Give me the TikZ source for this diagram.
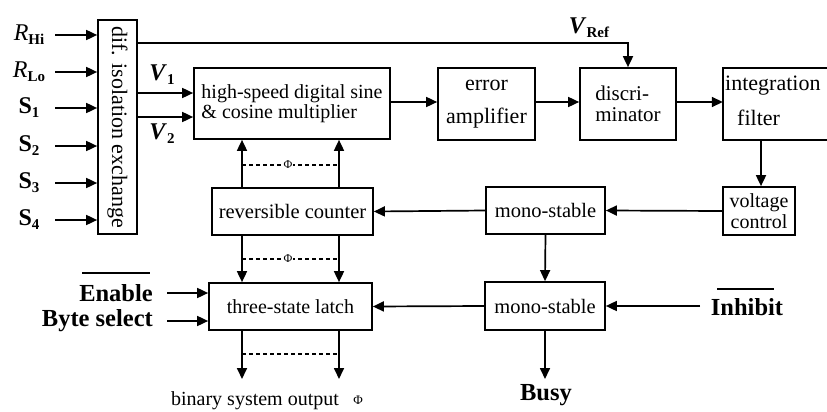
\documentclass[tikz,border=0pt]{standalone}
\usepackage{fontspec}
\setmainfont{Liberation Serif}
\usetikzlibrary{arrows.meta}
\newcommand\fs[1]{\fontsize{#1}{#1}\selectfont}
\newcommand\subl[3]{{\fs{#1}#2}{\fs{15}\raisebox{-4pt}{\textbf{#3}}}}
\begin{document}
\begin{tikzpicture}[x=1pt,y=-1pt,
  box/.style={draw, line width=1.7pt, inner sep=0pt, align=center},
  arr/.style={-{Triangle[length=11pt,width=10pt]}, line width=1.7pt},
  dline/.style={dashed, dash pattern=on 4pt off 3pt, line width=1.4pt},
  lbl/.style={inner sep=0pt, font=\fs{24.5}\bfseries},
  phi/.style={fill=white, inner sep=0.6pt, font=\fs{12}}]
\useasboundingbox (0,0) rectangle (827,412);
% boxes
\node[box, minimum width=39, minimum height=214] (iso) at (117.5,127) {\rotatebox{-90}{\fs{22}dif. isolation exchange}};
\node[box, minimum width=196, minimum height=71, font=\fs{20}, align=left] (mult) at (292,103.5) {high-speed digital sine\\\& cosine multiplier};
\node[box, minimum width=97, minimum height=72, font=\fs{22}] (err) at (486.5,104) {error\\[11pt]amplifier};
\node[box, minimum width=96, minimum height=72, font=\fs{21}, align=left] (disc) at (628,104) {discri-\\minator};
\node[inner sep=0pt, minimum width=106, minimum height=72] (integ) at (776,104) {};
\draw[line width=1.7pt] (integ.north east) -- (integ.north west) -- (integ.south west) -- (integ.south east);
\node[inner sep=0pt, font=\fs{22}, align=left, anchor=west] (integt) at (725,101) {integration\\[13pt]\hspace*{12pt}filter};
\node[box, minimum width=72, minimum height=48, font=\fs{20}] (vc) at (759,211) {voltage\\[1pt]control};
\node[box, minimum width=119, minimum height=47, font=\fs{20.5}] (mono1) at (545.5,210.5) {mono-stable};
\node[box, minimum width=161, minimum height=47, font=\fs{20.5}] (cnt) at (292.5,211.5) {reversible counter};
\node[box, minimum width=163, minimum height=47, font=\fs{20}] (latch) at (290.5,306.5) {three-state latch};
\node[box, minimum width=120, minimum height=48, font=\fs{20.5}] (mono2) at (545,306) {mono-stable};
% left labels
\node[inner sep=0pt] (rhi) at (29,35) {\subl{24}{\textit{R}}{Hi}};
\node[inner sep=0pt] (rlo) at (29,72) {\subl{24}{\textit{R}}{Lo}};
\node[inner sep=0pt] (s1) at (29,108) {\subl{24}{\textbf{S}}{1}};
\node[inner sep=0pt] (s2) at (29,146) {\subl{24}{\textbf{S}}{2}};
\node[inner sep=0pt] (s3) at (29,183) {\subl{24}{\textbf{S}}{3}};
\node[inner sep=0pt] (s4) at (29,220) {\subl{24}{\textbf{S}}{4}};
\foreach \n in {rhi,rlo,s1,s2,s3,s4}
  \draw[arr] (55,0 |- \n) -- (\n -| iso.west);
% V labels
\node[inner sep=0pt] (v1) at (162,75) {\subl{24}{\textbf{\textit{V}}}{1}};
\node[inner sep=0pt] (v2) at (162,134) {\subl{24}{\textbf{\textit{V}}}{2}};
\node[inner sep=0pt] (vref) at (589,28) {\subl{24}{\textbf{\textit{V}}}{Ref}};
\coordinate (y93) at (0,93);
\coordinate (y117) at (0,117);
\coordinate (y43) at (0,43);
\coordinate (y102) at (0,102);
\draw[arr] (iso.east |- y93) -- (mult.west |- y93);
\draw[arr] (iso.east |- y117) -- (mult.west |- y117);
\draw[arr] (iso.east |- y43) -| (disc.north);
% top chain
\draw[arr] (mult.east |- y102) -- (err.west |- y102);
\draw[arr] (err.east |- y102) -- (disc.west |- y102);
\draw[arr] (disc.east |- y102) -- (integ.west |- y102);
\draw[arr] (761,0 |- integ.south) -- (761,0 |- vc.north);
\draw[arr] (vc.west) -- (mono1.east);
\draw[arr] (mono1.west) -- (cnt.east);
\draw[arr] (mono1.south) -- (mono2.north);
% counter to multiplier
\coordinate (xa) at (242,0);
\coordinate (xb) at (339,0);
\draw[arr] (xa |- cnt.north) -- (xa |- mult.south);
\draw[arr] (xb |- cnt.north) -- (xb |- mult.south);
\draw[dline] (242,165) -- (339,165);
\node[phi] (phi1) at (288,165) {Φ};
% counter to latch
\draw[arr] (xa |- cnt.south) -- (xa |- latch.north);
\draw[arr] (xb |- cnt.south) -- (xb |- latch.north);
\draw[dline] (242,259) -- (339,259);
\node[phi] (phi2) at (288,259) {Φ};
% latch outputs
\coordinate (yout) at (0,379);
\draw[arr] (xa |- latch.south) -- (xa |- yout);
\draw[arr] (xb |- latch.south) -- (xb |- yout);
\draw[dline] (242,354) -- (339,354);
\node[inner sep=0pt, font=\fs{20}] (bso) at (255,401) {binary system output};
\node[inner sep=0pt, font=\fs{13}] (phi3) at (358,400) {Φ};
% enable / byte select
\node[lbl, anchor=east] (en) at (153,293) {Enable};
\draw[line width=1.5pt] (82,273) -- (150,273);
\node[lbl, anchor=east] (bs) at (153,321) {Byte select};
\draw[arr] (167,0 |- en) -- (en -| latch.west);
\draw[arr] (167,0 |- bs) -- (bs -| latch.west);
% mono2
\draw[arr] (mono2.west) -- (latch.east);
\node[lbl] (inh) at (747,307) {Inhibit};
\draw[line width=1.5pt] (717,289) -- (774,289);
\draw[arr] (700,0 |- mono2) -- (mono2.east);
\draw[arr] (mono2.south) -- (mono2.south |- yout);
\node[lbl] (busy) at (546,395) {Busy};
\end{tikzpicture}
\end{document}
